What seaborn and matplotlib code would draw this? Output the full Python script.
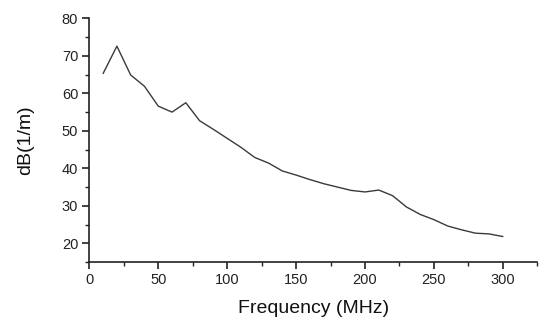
import matplotlib
matplotlib.use("Agg")
import matplotlib.pyplot as plt
import seaborn as sns
import pandas as pd
from matplotlib.ticker import MultipleLocator

freq = [10, 20, 30, 40, 50, 60, 70, 80, 90, 100, 110, 120, 130, 140, 150,
        160, 170, 180, 190, 200, 210, 220, 230, 240, 250, 260, 270, 280, 290, 300]
db = [65.3, 72.6, 64.9, 61.9, 56.6, 55.0, 57.5, 52.7, 50.4, 48.0, 45.6, 42.9, 41.4, 39.3, 38.2,
      37.0, 35.9, 35.0, 34.1, 33.7, 34.2, 32.7, 29.7, 27.7, 26.3, 24.6, 23.6, 22.7, 22.5, 21.8]

df = pd.DataFrame({"Frequency": freq, "dB": db})

sns.set_theme(style="ticks")
plt.rcParams['font.family'] = ['Liberation Sans', 'DejaVu Sans']

fig = plt.figure(figsize=(5.5, 3.29), dpi=100)
ax = fig.add_axes([0.1624, 0.2036, 0.977 - 0.1624, 0.944 - 0.2036])
sns.lineplot(data=df, x="Frequency", y="dB", ax=ax, color="#3a3a3a", linewidth=1.0)

ax.set_xlim(0, 325)
ax.set_ylim(15, 80)
ax.xaxis.set_major_locator(MultipleLocator(50))
ax.xaxis.set_minor_locator(MultipleLocator(25))
ax.yaxis.set_major_locator(MultipleLocator(10))
ax.yaxis.set_minor_locator(MultipleLocator(5))
ax.set_xticks([0, 50, 100, 150, 200, 250, 300])
ax.set_yticks([20, 30, 40, 50, 60, 70, 80])

for s in ["top", "right"]:
    ax.spines[s].set_visible(False)
for s in ["left", "bottom"]:
    ax.spines[s].set_linewidth(1.2)
    ax.spines[s].set_color("#222222")

ax.tick_params(axis="both", which="major", direction="out", length=5, width=1.2,
               labelsize=10.5, colors="#222222", pad=3)
ax.tick_params(axis="both", which="minor", direction="out", length=3, width=1.0, colors="#222222")

ax.set_xlabel("Frequency (MHz)", fontsize=14, color="#111111", labelpad=9)
ax.set_ylabel("dB(1/m)", fontsize=14, color="#111111", labelpad=20)

fig.savefig("out.png", dpi=100)
